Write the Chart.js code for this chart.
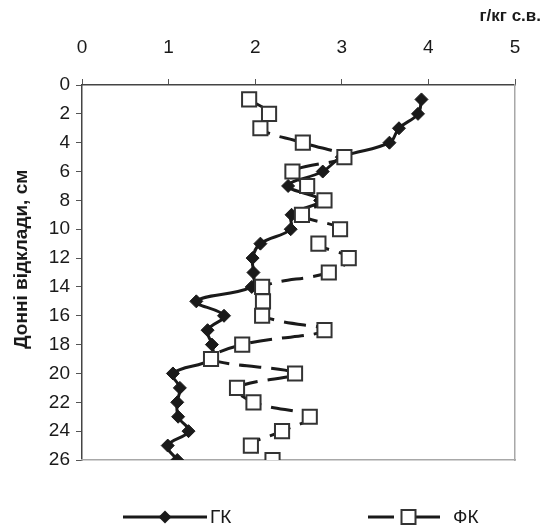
<!DOCTYPE html>
<html>
<head>
<meta charset="utf-8">
<script src="https://cdn.jsdelivr.net/npm/chart.js"></script>
<style>
  html, body { margin: 0; padding: 0; background: #fff; }
  #chart { display: block; }
</style>
</head>
<body>
<canvas id="chart" width="547" height="532"></canvas>
<script>
// глибина відбору, см
const depths = [1, 2, 3, 4, 5, 6, 7, 8, 9, 10, 11, 12, 13, 14, 15, 16, 17, 18, 19, 20, 21, 22, 23, 24, 25, 26];
// гумінові кислоти, г/кг с.в.
const gkValues = [3.92, 3.88, 3.66, 3.55, 3.0, 2.78, 2.38, 2.75, 2.42, 2.41, 2.06, 1.97, 1.98, 1.96, 1.32, 1.64, 1.45, 1.5, 1.5, 1.05, 1.13, 1.1, 1.11, 1.23, 0.99, 1.1];
// фульвокислоти, г/кг с.в.
const fkValues = [1.93, 2.16, 2.06, 2.55, 3.03, 2.43, 2.6, 2.8, 2.54, 2.98, 2.73, 3.08, 2.85, 2.08, 2.09, 2.08, 2.8, 1.85, 1.49, 2.46, 1.79, 1.98, 2.63, 2.31, 1.95, 2.2];

const seriesNames = ["ГК", "ФК"];
const xTitle = "г/кг с.в.";
const yTitle = "Донні відклади, см";

const font = "'Liberation Sans', Arial, sans-serif";
const ink = "#1a1a1a";

function toPoints(values) {
  return values.map((v, i) => ({ x: v, y: depths[i] }));
}

// легенда: лінія з маркером, як у Excel
const legendPlugin = {
  id: "excelLegend",
  afterDraw(chart) {
    const ctx = chart.ctx;
    const y = 517;
    ctx.save();
    ctx.lineWidth = 3;
    ctx.strokeStyle = ink;

    // ГК
    ctx.beginPath();
    ctx.moveTo(123, y);
    ctx.lineTo(207, y);
    ctx.stroke();
    ctx.fillStyle = ink;
    ctx.beginPath();
    ctx.moveTo(165, y - 6.5);
    ctx.lineTo(171.5, y);
    ctx.lineTo(165, y + 6.5);
    ctx.lineTo(158.5, y);
    ctx.closePath();
    ctx.fill();

    // ФК
    ctx.beginPath();
    ctx.moveTo(368, y);
    ctx.lineTo(394, y);
    ctx.moveTo(414, y);
    ctx.lineTo(440, y);
    ctx.stroke();
    ctx.fillStyle = "#fff";
    ctx.lineWidth = 2;
    ctx.strokeStyle = "#333";
    ctx.fillRect(401.5, y - 7, 14, 14);
    ctx.strokeRect(401.5, y - 7, 14, 14);

    ctx.fillStyle = ink;
    ctx.font = "19px " + font;
    ctx.textBaseline = "middle";
    ctx.textAlign = "left";
    ctx.fillText(seriesNames[0], 210, y + 1);
    ctx.fillText(seriesNames[1], 453, y + 1);
    ctx.restore();
  }
};

const ctx = document.getElementById("chart").getContext("2d");
const chart = new Chart(ctx, {
  type: "line",
  data: {
    datasets: [
      {
        label: seriesNames[0],
        data: toPoints(gkValues),
        order: 1,
        borderColor: ink,
        borderWidth: 3,
        tension: 0.4,
        fill: false,
        pointStyle: "rectRot",
        pointRadius: 6.5,
        pointBackgroundColor: ink,
        pointBorderColor: ink,
        pointBorderWidth: 1,
        xAxisID: "x",
        yAxisID: "y"
      },
      {
        label: seriesNames[1],
        data: toPoints(fkValues),
        order: 0,
        borderColor: ink,
        borderWidth: 3,
        borderDash: [22, 10],
        tension: 0.4,
        fill: false,
        pointStyle: "rect",
        pointRadius: 10,
        pointBackgroundColor: "#fff",
        pointBorderColor: "#333",
        pointBorderWidth: 2,
        xAxisID: "x",
        yAxisID: "y"
      }
    ]
  },
  options: {
    responsive: false,
    animation: false,
    layout: { padding: { left: 0, right: 6, top: 0, bottom: 72 } },
    plugins: {
      legend: { display: false },
      tooltip: { enabled: false },
      title: {
        display: true,
        text: xTitle,
        align: "end",
        color: ink,
        font: { family: font, size: 17, weight: "bold" },
        padding: { top: 6, bottom: 8.6 }
      }
    },
    scales: {
      x: {
        type: "linear",
        position: "top",
        min: 0,
        max: 5,
        ticks: { stepSize: 1, color: ink, font: { family: font, size: 19 }, padding: 20 },
        grid: { drawOnChartArea: false, tickLength: 6, color: "#555" },
        border: { color: "#444", width: 1.5 },
        afterFit(scale) { scale.height = 50; }
      },
      y: {
        type: "linear",
        position: "left",
        reverse: true,
        min: 0,
        max: 26,
        ticks: { stepSize: 2, color: ink, font: { family: font, size: 19 }, padding: 6 },
        grid: { drawOnChartArea: false, tickLength: 6, color: "#555" },
        border: { color: "#444", width: 1.5 },
        title: {
          display: true,
          text: "     " + yTitle,
          color: ink,
          font: { family: font, size: 19, weight: "bold" },
          padding: { top: 10, bottom: 0 }
        },
        afterFit(scale) { scale.width = 82; }
      },
      x2: {
        type: "linear",
        position: "bottom",
        ticks: { display: false },
        grid: { display: false },
        border: { color: "#a8a8a8", width: 1.5 },
        afterFit(scale) { scale.height = 0; }
      },
      y2: {
        type: "linear",
        position: "right",
        ticks: { display: false },
        grid: { display: false },
        border: { color: "#a8a8a8", width: 1.5 },
        afterFit(scale) { scale.width = 26; }
      }
    }
  },
  plugins: [legendPlugin]
});
</script>
</body>
</html>
